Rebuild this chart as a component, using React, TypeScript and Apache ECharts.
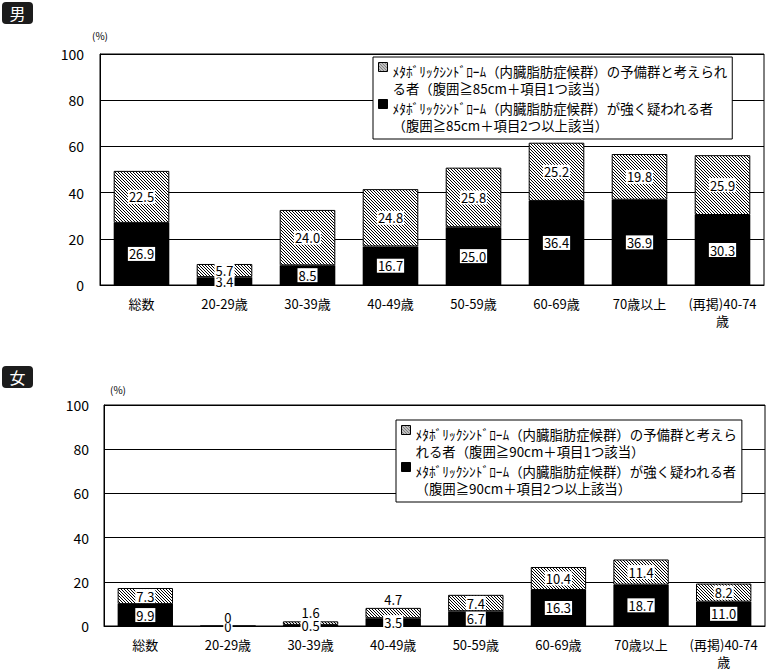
import React, { useEffect, useRef } from "react";
import * as echarts from "echarts";

const categories = ["総数", "20-29歳", "30-39歳", "40-49歳", "50-59歳", "60-69歳", "70歳以上", "(再掲)40-74歳"];
const maleStrong = [26.9, 3.4, 8.5, 16.7, 25.0, 36.4, 36.9, 30.3];
const maleReserve = [22.5, 5.7, 24.0, 24.8, 25.8, 25.2, 19.8, 25.9];
const femaleStrong = [9.9, 0, 0.5, 3.5, 6.7, 16.3, 18.7, 11.0];
const femaleReserve = [7.3, 0, 1.6, 4.7, 7.4, 10.4, 11.4, 8.2];
const yTicks = { min: 0, max: 100, interval: 20 };

const maleReserveName = "ﾒﾀﾎﾞﾘｯｸｼﾝﾄﾞﾛｰﾑ（内臓脂肪症候群）の予備群と考えられ\nる者（腹囲≧85cm＋項目1つ該当）";
const maleStrongName = "ﾒﾀﾎﾞﾘｯｸｼﾝﾄﾞﾛｰﾑ（内臓脂肪症候群）が強く疑われる者\n（腹囲≧85cm＋項目2つ以上該当）";
const femaleReserveName = "ﾒﾀﾎﾞﾘｯｸｼﾝﾄﾞﾛｰﾑ（内臓脂肪症候群）の予備群と考えら\nれる者（腹囲≧90cm＋項目1つ該当）";
const femaleStrongName = "ﾒﾀﾎﾞﾘｯｸｼﾝﾄﾞﾛｰﾑ（内臓脂肪症候群）が強く疑われる者\n（腹囲≧90cm＋項目2つ以上該当）";

const FONT = "'Noto Sans CJK JP', 'Noto Sans', sans-serif";

const fmt = (p: any) => {
  const v = Array.isArray(p.value) ? p.value[1] : p.value;
  return v === 0 ? "0" : Number(v).toFixed(1);
};

const labelBase = {
  show: true,
  position: "inside" as const,
  color: "#000",
  backgroundColor: "#fff",
  padding: [1, 1, 0, 1],
  fontSize: 13,
  fontFamily: FONT,
  formatter: fmt,
};

function makeHatch() {
  const c = document.createElement("canvas");
  c.width = 3;
  c.height = 3;
  const ctx = c.getContext("2d")!;
  ctx.fillStyle = "#fff";
  ctx.fillRect(0, 0, 3, 3);
  ctx.fillStyle = "#000";
  for (let i = 0; i < 3; i++) ctx.fillRect(i, i, 1, 1);
  return { image: c, repeat: "repeat" as const };
}

// legend icon: square at the top of a box as tall as the two text lines
const ICON_PATH = "path://M0,0L9,0L9,9L0,9Z M0,34L0.01,34";

function xAxis(gridIndex: number) {
  return {
    type: "category" as const,
    gridIndex,
    data: categories,
    axisLine: { lineStyle: { color: "#000", width: 1 } },
    axisTick: { inside: true, length: 3, lineStyle: { color: "#000" } },
    axisLabel: {
      color: "#000",
      fontSize: 13,
      margin: 10,
      interval: 0,
      fontFamily: FONT,
      lineHeight: 17,
      formatter: (v: string) => v.replace("40-74歳", "40-74\n歳"),
    },
  };
}

function yAxis(gridIndex: number, margin: number) {
  return {
    type: "value" as const,
    gridIndex,
    ...yTicks,
    axisLine: { show: true, lineStyle: { color: "#000" } },
    axisTick: { show: false },
    splitLine: { lineStyle: { color: "#000", width: 1 } },
    axisLabel: { color: "#000", fontSize: 14, margin, fontFamily: FONT },
  };
}

function legend(left: number, top: number, names: string[]) {
  return {
    orient: "vertical" as const,
    left,
    top,
    data: names.map((n) => ({ name: n, icon: ICON_PATH })),
    backgroundColor: "#fff",
    borderColor: "#000",
    borderWidth: 1,
    borderRadius: 0,
    padding: [5, 5, 5, 5],
    itemGap: 2,
    itemWidth: 9,
    itemHeight: 34,
    symbolKeepAspect: false,
    itemStyle: { borderColor: "#000", borderWidth: 1 },
    textStyle: { color: "#000", fontSize: 13.4, lineHeight: 17, fontFamily: FONT },
    selectedMode: false,
  };
}

function badge(y: number, ch: string) {
  return {
    type: "group",
    left: 2,
    top: y,
    children: [
      { type: "rect", shape: { x: 0, y: 0, width: 31, height: 22, r: 4 }, style: { fill: "#1c1c1c" } },
      {
        type: "text",
        x: 15.5,
        y: 11,
        style: { text: ch, fill: "#fff", font: `16px ${FONT}`, align: "center", verticalAlign: "middle" },
      },
    ],
  };
}

export default function App() {
  const ref = useRef<HTMLDivElement>(null);
  useEffect(() => {
    if (!ref.current) return;
    const chart = echarts.init(ref.current, undefined, { renderer: "svg" });
    const hatch = makeHatch();
    const femaleTopIdx = [1, 2, 3];
    chart.setOption({
      animation: false,
      backgroundColor: "#fff",
      textStyle: { fontFamily: FONT },
      grid: [
        { left: 100, top: 54, width: 664, height: 231, show: true, borderColor: "#000", borderWidth: 1 },
        { left: 104, top: 405, width: 661, height: 223, show: true, borderColor: "#000", borderWidth: 1 },
      ],
      xAxis: [xAxis(0), xAxis(1)],
      yAxis: [yAxis(0, 16), yAxis(1, 15)],
      legend: [
        legend(373, 57, [maleReserveName, maleStrongName]),
        legend(396, 420, [femaleReserveName, femaleStrongName]),
      ],
      graphic: [
        badge(2, "男"),
        badge(366, "女"),
        { type: "text", x: 92, y: 30, style: { text: "(%)", fill: "#000", font: `10px ${FONT}` } },
        { type: "text", x: 110, y: 384, style: { text: "(%)", fill: "#000", font: `10px ${FONT}` } },
      ],
      series: [
        {
          name: maleStrongName,
          type: "bar",
          stack: "m",
          xAxisIndex: 0,
          yAxisIndex: 0,
          barCategoryGap: "33%",
          data: maleStrong,
          itemStyle: { color: "#000" },
          label: labelBase,
        },
        {
          name: maleReserveName,
          type: "bar",
          stack: "m",
          xAxisIndex: 0,
          yAxisIndex: 0,
          barCategoryGap: "33%",
          data: maleReserve,
          itemStyle: { color: hatch, borderColor: "#000", borderWidth: 1 },
          label: labelBase,
        },
        {
          name: femaleStrongName,
          type: "bar",
          stack: "f",
          xAxisIndex: 1,
          yAxisIndex: 1,
          barCategoryGap: "33%",
          data: femaleStrong,
          itemStyle: { color: "#000" },
          label: labelBase,
        },
        {
          name: femaleReserveName,
          type: "bar",
          stack: "f",
          xAxisIndex: 1,
          yAxisIndex: 1,
          barCategoryGap: "33%",
          data: femaleReserve.map((v, i) =>
            femaleTopIdx.includes(i) ? { value: v, label: { position: "top", distance: 2 } } : v
          ),
          itemStyle: { color: hatch, borderColor: "#000", borderWidth: 1 },
          label: labelBase,
        },
      ],
    });
    return () => chart.dispose();
  }, []);
  return (
    <div
      ref={ref}
      style={{ position: "fixed", left: 0, top: 0, width: 769, height: 670, background: "#fff" }}
    />
  );
}
